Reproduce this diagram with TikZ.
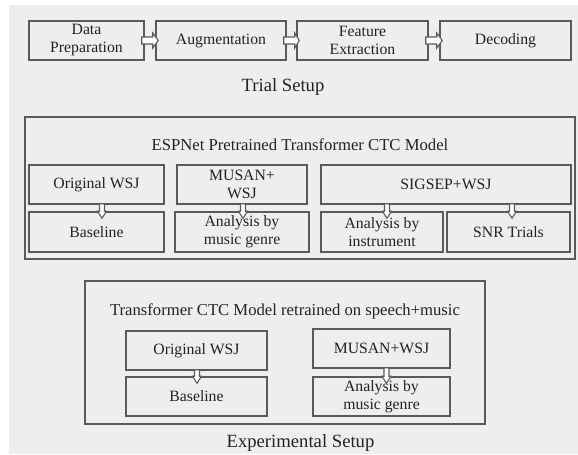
\documentclass[tikz,border=0pt]{standalone}
\usepackage{fontspec}
\setmainfont{Liberation Serif}
\usetikzlibrary{calc}
\definecolor{bg}{HTML}{EEEEEE}
\definecolor{edge}{HTML}{5A5A5A}
\definecolor{ink}{HTML}{222222}
\def\pxu{0.75pt}
\tikzset{
  box/.style={draw=edge, line width=1.1pt, inner sep=0pt, align=center, text=ink,
    font=\fontsize{11.8pt}{13.5pt}\selectfont},
  outer/.style={draw=edge, line width=1.1pt, inner sep=0pt},
  title/.style={anchor=base, text=ink, inner sep=0pt, font=\fontsize{12.5pt}{15pt}\selectfont},
  caption/.style={anchor=base, text=ink, inner sep=0pt, font=\fontsize{14pt}{16pt}\selectfont},
  blk/.style={draw=edge, line width=0.8pt, fill=white, line join=miter}
}
\newcommand\myharrow[2]{%
  \draw[blk] ($(#1.east)+(-3,-3.5)$) -- ($(#1.east)+(8,-3.5)$) -- ($(#1.east)+(8,-7.5)$)
    -- ($(#2.west)+(3,0)$) -- ($(#1.east)+(8,7.5)$) -- ($(#1.east)+(8,3.5)$)
    -- ($(#1.east)+(-3,3.5)$) -- cycle;}
\newcommand\myvarrow[3]{%
  \draw[blk] ($(#1.south -| #2.north)+(#3-2.5,-1)$) -- ($(#1.south -| #2.north)+(#3+2.5,-1)$)
    -- ($(#2.north)+(#3+2.5,0)$) -- ($(#2.north)+(#3+4.5,0)$) -- ($(#2.north)+(#3,7)$)
    -- ($(#2.north)+(#3-4.5,0)$) -- ($(#2.north)+(#3-2.5,0)$) -- cycle;}
\begin{document}
\begin{tikzpicture}[x=0.75pt,y=-0.75pt]
\useasboundingbox (0,0) rectangle (578,454);
\fill[bg] (9,5) rectangle (578,454);

% Trial setup row
\node[box, minimum width=115*\pxu, minimum height=39*\pxu] (dp)  at (86.5,40.5) {Data\\Preparation};
\node[box, minimum width=130*\pxu, minimum height=39*\pxu] (aug) at (221,40.5) {Augmentation};
\node[box, minimum width=131*\pxu, minimum height=39*\pxu] (fe)  at (362.5,40.5) {Feature\\Extraction};
\node[box, minimum width=131*\pxu, minimum height=39*\pxu] (dec) at (505.5,40.5) {Decoding};
\myharrow{dp}{aug}
\myharrow{aug}{fe}
\myharrow{fe}{dec}
\node[caption] (trial) at (283,91) {Trial Setup};

% ESPNet block
\node[outer, minimum width=550*\pxu, minimum height=142*\pxu] (esp) at (300,188) {};
\node[title] (esptitle) at (300,150) {ESPNet Pretrained Transformer CTC Model};
\node[box, minimum width=135*\pxu, minimum height=39*\pxu] (ow1) at (96.5,184.5) {Original WSJ};
\node[box, minimum width=130*\pxu, minimum height=39*\pxu] (mw1) at (242,184.5) {MUSAN+\\WSJ};
\node[box, minimum width=250*\pxu, minimum height=39*\pxu] (sw)  at (446,184.5) {SIGSEP+WSJ};
\node[box, minimum width=135*\pxu, minimum height=40*\pxu] (bl1) at (96.5,232) {Baseline};
\node[box, minimum width=134*\pxu, minimum height=40*\pxu] (ag1) at (242,232) {Analysis by\\music genre};
\node[box, minimum width=122*\pxu, minimum height=40*\pxu] (ai)  at (382,232) {Analysis by\\instrument};
\node[box, minimum width=123*\pxu, minimum height=40*\pxu] (snr) at (508.5,232) {SNR Trials};
\myvarrow{ow1}{bl1}{5.5}
\myvarrow{mw1}{ag1}{1}
\myvarrow{sw}{ai}{5}
\myvarrow{sw}{snr}{3.5}

% Retrained block
\node[outer, minimum width=400*\pxu, minimum height=143*\pxu] (ret) at (285,352.5) {};
\node[title] (rettitle) at (285,315) {Transformer CTC Model retrained on speech+music};
\node[box, minimum width=141*\pxu, minimum height=39*\pxu] (ow2) at (196.5,350.5) {Original WSJ};
\node[box, minimum width=141*\pxu, minimum height=39*\pxu] (bl2) at (196.5,396.5) {Baseline};
\node[box, minimum width=137*\pxu, minimum height=39*\pxu] (mw2) at (381.5,348.5) {MUSAN+WSJ};
\node[box, minimum width=137*\pxu, minimum height=39*\pxu] (ag2) at (381.5,396.5) {Analysis by\\music genre};
\myvarrow{ow2}{bl2}{0.5}
\myvarrow{mw2}{ag2}{5}
\node[caption] (exp) at (300.5,447) {Experimental Setup};
\end{tikzpicture}
\end{document}
